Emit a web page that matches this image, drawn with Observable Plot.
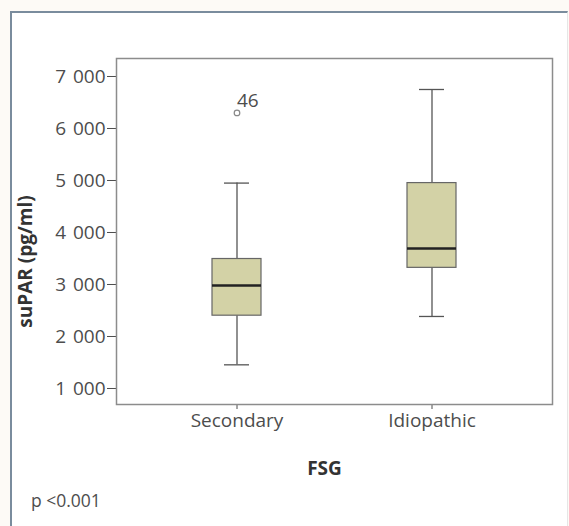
<!DOCTYPE html>
<html>
<head>
<meta charset="utf-8">
<script src="https://cdn.jsdelivr.net/npm/d3@7"></script>
<script src="https://cdn.jsdelivr.net/npm/@observablehq/plot@0.6"></script>
<style>
  html, body { margin: 0; padding: 0; background: #fdfaf6; }
  body { width: 569px; height: 526px; position: relative; overflow: hidden; font-family: "Open Sans", sans-serif; }
  #panel {
    position: absolute; left: 10px; top: 11px; width: 555px; height: 516px;
    background: #ffffff;
    border-left: 2px solid #7a8c9d; border-top: 2px solid #7a8c9d; border-right: 1px solid #e6e6e6;
  }
  #chart { position: absolute; left: 0; top: 0; }
  #note { position: absolute; left: 31px; top: 488px; font-size: 17.5px; color: #4d4d4d; }
</style>
</head>
<body>
<div id="panel"></div>
<div id="chart"></div>
<div id="note">p &lt;0.001</div>
<script>
// Five-number summaries of suPAR by FSG type
const groups = ["Secondary", "Idiopathic"];
const whiskerLow = [1455, 2385];
const quartile1 = [2400, 3320];
const medians = [2980, 3690];
const quartile3 = [3490, 4950];
const whiskerHigh = [4950, 6750];

// Outlying observation, labelled by case number
const outlierGroups = ["Secondary"];
const outlierValues = [6300];
const outlierLabels = ["46"];

// Axis ticks and titles
const yTicks = [1000, 2000, 3000, 4000, 5000, 6000, 7000];
const xTitle = "FSG";
const yTitle = "suPAR (pg/ml)";

const table = groups.map((g, i) => ({
  group: g, low: whiskerLow[i], q1: quartile1[i], median: medians[i], q3: quartile3[i], high: whiskerHigh[i]
}));
const outliers = outlierGroups.map((g, i) => ({group: g, value: outlierValues[i], label: outlierLabels[i]}));

// thousands grouped with a space: 7 000
const spaced = d => d3.format(",")(d).replace(/,/g, "\u00a0\u200a");

const chart = Plot.plot({
  width: 569,
  height: 480,
  marginTop: 58,
  marginBottom: 76,
  marginLeft: 116,
  marginRight: 17,
  style: {background: "transparent", fontFamily: "Open Sans", fontSize: "19px", color: "#4d4d4d", overflow: "visible"},
  x: {type: "band", domain: groups, paddingInner: 0.75, paddingOuter: 0.49, label: null, tickSize: 5, tickPadding: 4},
  y: {domain: [692, 7346], ticks: yTicks, tickFormat: spaced, tickSize: 9, tickPadding: 2, label: null},
  marks: [
    Plot.frame({stroke: "#8c8c8c", strokeWidth: 1.5}),
    Plot.ruleX(table, {x: "group", y1: "low", y2: "q1", stroke: "#555", strokeWidth: 1.3}),
    Plot.ruleX(table, {x: "group", y1: "q3", y2: "high", stroke: "#555", strokeWidth: 1.3}),
    Plot.tickY(table, {x: "group", y: "low", insetLeft: 12, insetRight: 12, stroke: "#555", strokeWidth: 1.3}),
    Plot.tickY(table, {x: "group", y: "high", insetLeft: 12, insetRight: 12, stroke: "#555", strokeWidth: 1.3}),
    Plot.barY(table, {x: "group", y1: "q1", y2: "q3", fill: "#d3d2a6", stroke: "#666", strokeWidth: 1.2}),
    Plot.tickY(table, {x: "group", y: "median", stroke: "#222", strokeWidth: 2.5}),
    Plot.dot(outliers, {x: "group", y: "value", r: 2.8, stroke: "#888", strokeWidth: 1.2, fill: "white"}),
    Plot.text(outliers, {x: "group", y: "value", text: "label", textAnchor: "start", lineAnchor: "bottom", dx: 0, dy: -6, fontSize: 19, fill: "#4d4d4d"}),
    Plot.text([xTitle], {frameAnchor: "bottom", textAnchor: "middle", dx: -10, dy: 64, lineAnchor: "middle", fontWeight: "bold", fontSize: 19, fill: "#333"}),
    Plot.text([yTitle], {frameAnchor: "left", textAnchor: "middle", rotate: -90, dx: -91, dy: 30, lineAnchor: "middle", fontWeight: "bold", fontSize: 19, fill: "#333"})
  ]
});
document.getElementById("chart").append(chart);
</script>
</body>
</html>
